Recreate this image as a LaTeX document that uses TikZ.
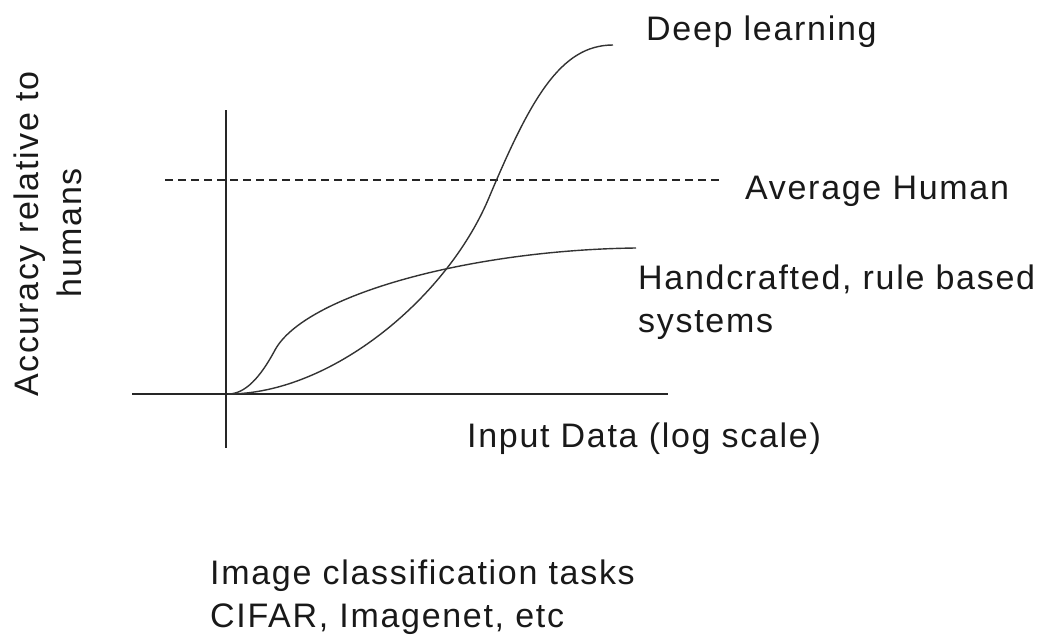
\documentclass[tikz,border=0pt]{standalone}
\usepackage{fontspec}
\setmainfont{Liberation Sans}[LetterSpace=5]
\begin{document}
\begin{tikzpicture}[x=1pt,y=-1pt,
  axisline/.style={line width=1.8pt,black!85},
  curveline/.style={line width=1.4pt,black!80},
  refline/.style={line width=1.3pt,black!85,dash pattern=on 8pt off 5pt},
  lbl/.style={inner sep=0pt,font=\fontsize{34}{43}\selectfont,text=black!90}]
\useasboundingbox (0,0) rectangle (1042,637);
% axes
\coordinate (xl) at (132,394);
\coordinate (xr) at (668,394);
\coordinate (yt) at (226,110);
\coordinate (yb) at (226,448);
\coordinate (o) at (228,394);
\draw[axisline] (xl) -- (xr);
\draw[axisline] (yt) -- (yb);
% average human dashed line
\coordinate (hl) at (165,180);
\coordinate (hr) at (722,180);
\draw[refline] (hl) -- (hr);
% deep learning curve
\coordinate (dlend) at (613,45);
\draw[curveline] (o) .. controls (330,394) and (445,300) .. (488,200)
  .. controls (530,100) and (560,45) .. (dlend);
% handcrafted curve
\coordinate (hcend) at (636,248);
\draw[curveline] (o) .. controls (245,394) and (260,378) .. (275,350)
  .. controls (305,295) and (470,250) .. (hcend);
% labels
\node[lbl,anchor=base west] (dl) at (646,40) {Deep learning};
\node[lbl,anchor=base west] (ah) at (745,199) {Average Human};
\node[lbl,anchor=base west] (hc1) at (638,289) {Handcrafted, rule based};
\node[lbl,anchor=base west] (hc2) at (638,332) {systems};
\node[lbl,anchor=base west] (xlab) at (467,447) {Input Data (log scale)};
\node[lbl,anchor=base,rotate=90] (ylab1) at (38,234) {Accuracy relative to};
\node[lbl,anchor=base,rotate=90] (ylab2) at (81,233) {humans};
\node[lbl,anchor=base west] (t1) at (210,584) {Image classification tasks};
\node[lbl,anchor=base west] (t2) at (210,627) {CIFAR, Imagenet, etc};
\end{tikzpicture}
\end{document}
